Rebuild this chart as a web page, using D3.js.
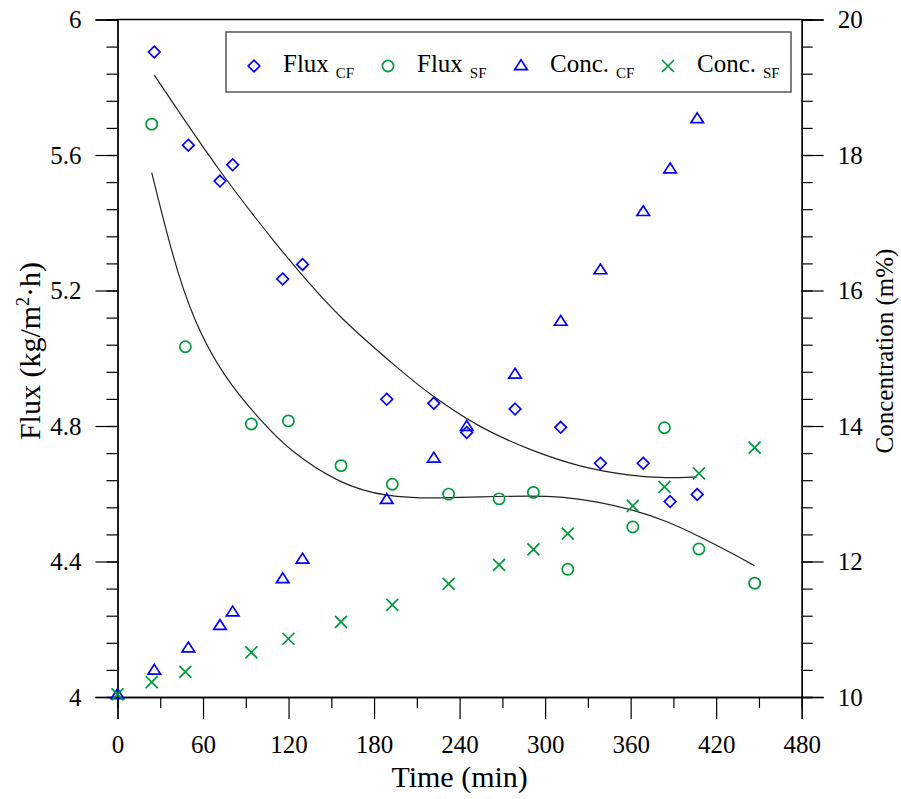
<!DOCTYPE html>
<html>
<head>
<meta charset="utf-8">
<script src="https://cdn.jsdelivr.net/npm/d3@7"></script>
<style>
  html, body { margin: 0; padding: 0; background: #fff; }
  svg { display: block; font-family: "Liberation Serif", "Times New Roman", serif; }
</style>
</head>
<body>
<svg id="chart" width="901" height="799"></svg>
<script>
// ---- data ----
const timeCF  = [0, 25.8, 49.7, 71.9, 80.8, 115.9, 129.8, 188.9, 221.9, 245.0, 278.9, 310.9, 338.8, 368.8, 387.7, 406.7];
const fluxCF  = [null, 5.904, 5.629, 5.523, 5.571, 5.234, 5.277, 4.879, 4.867, 4.781, 4.850, 4.796, 4.690, 4.690, 4.577, 4.598];
const concCF  = [10.03, 10.39, 10.72, 11.05, 11.25, 11.74, 12.03, 12.91, 13.52, 13.99, 14.76, 15.54, 16.30, 17.16, 17.79, 18.53];

const timeSF  = [0, 24.0, 47.6, 93.9, 119.9, 156.8, 192.8, 232.3, 267.7, 291.8, 315.9, 361.5, 383.7, 407.9, 447.0];
const fluxSF  = [null, 5.691, 5.034, 4.806, 4.815, 4.683, 4.628, 4.599, 4.585, 4.604, 4.377, 4.502, 4.795, 4.437, 4.336];
const concSF  = [10.04, 10.22, 10.37, 10.66, 10.86, 11.11, 11.36, 11.67, 11.95, 12.18, 12.41, 12.82, 13.10, 13.30, 13.68];

// trend lines drawn in the reference
const fitCFtime = [25.8, 71.9, 116.4, 130.4, 156.1, 198.2, 219.3, 254.4, 289.5, 324.6, 359.6, 385.4, 406.5];
const fitCFflux = [5.836, 5.546, 5.310, 5.241, 5.118, 4.965, 4.892, 4.793, 4.729, 4.678, 4.653, 4.646, 4.650];
const fitSFtime = [24.0, 39.2, 53.2, 74.2, 100.0, 119.9, 156.8, 188.9, 221.4, 254.4, 289.5, 312.8, 336.3, 362.0, 385.4, 408.8, 432.1, 446.7];
const fitSFflux = [5.548, 5.290, 5.113, 4.946, 4.818, 4.729, 4.626, 4.591, 4.586, 4.591, 4.594, 4.591, 4.577, 4.552, 4.520, 4.473, 4.422, 4.388];

const xTicks      = [0, 60, 120, 180, 240, 300, 360, 420, 480];
const xMinorTicks = [30, 90, 150, 210, 270, 330, 390, 450];
const yLTicks     = [4, 4.4, 4.8, 5.2, 5.6, 6];
const yRTicks     = [10, 12, 14, 16, 18, 20];

const legendItems = [
  { name: "Flux",  sub: "CF", symbol: "diamond",  color: "#0000ff" },
  { name: "Flux",  sub: "SF", symbol: "circle",   color: "#009a3c" },
  { name: "Conc.", sub: "CF", symbol: "triangle", color: "#0000ff" },
  { name: "Conc.", sub: "SF", symbol: "cross",    color: "#009a3c" }
];

// ---- layout ----
const L = 117.5, R = 801.7, T = 19.5, B = 697;
const BLUE = "#0000ff", GREEN = "#009a3c";

const svg = d3.select("#chart");
const x  = d3.scaleLinear().domain([0, 480]).range([L, R]);
const yL = d3.scaleLinear().domain([4, 6]).range([B, T]);
const yR = d3.scaleLinear().domain([10, 20]).range([B, T]);

function styleAxis(g) {
  g.attr("font-family", null);
  g.selectAll("path.domain").attr("stroke", "#000").attr("stroke-width", 1.3);
  g.selectAll(".tick line").attr("stroke", "#000").attr("stroke-width", 1.2);
  g.selectAll(".tick text").attr("font-size", 25).attr("fill", "#000");
}

// minor ticks
svg.append("g").attr("transform", `translate(0,${B})`)
  .call(d3.axisBottom(x).tickValues(xMinorTicks).tickSize(11).tickFormat(""))
  .call(styleAxis);
svg.append("g").attr("transform", `translate(${L},0)`)
  .call(d3.axisLeft(yL).tickValues(d3.range(0, 26).map(i => 4 + i * 0.08)).tickSize(11).tickFormat(""))
  .call(styleAxis);
svg.append("g").attr("transform", `translate(${R},0)`)
  .call(d3.axisRight(yR).tickValues(d3.range(0, 26).map(i => 10 + i * 0.4)).tickSize(11).tickFormat(""))
  .call(styleAxis);

// major ticks + labels
svg.append("g").attr("transform", `translate(0,${B})`)
  .call(d3.axisBottom(x).tickValues(xTicks).tickSize(22).tickPadding(16).tickFormat(d3.format("d")))
  .call(styleAxis);
svg.append("g").attr("transform", `translate(${L},0)`)
  .call(d3.axisLeft(yL).tickValues(yLTicks).tickSize(22).tickPadding(14).tickFormat(d => String(d)))
  .call(styleAxis);
svg.append("g").attr("transform", `translate(${R},0)`)
  .call(d3.axisRight(yR).tickValues(yRTicks).tickSize(22).tickPadding(14).tickFormat(d3.format("d")))
  .call(styleAxis);

// top frame line
svg.append("line").attr("x1", L).attr("x2", R).attr("y1", T).attr("y2", T)
  .attr("stroke", "#000").attr("stroke-width", 1.3);

// axis titles
svg.append("text").attr("x", (L + R) / 2).attr("y", 787).attr("text-anchor", "middle")
  .attr("font-size", 30).text("Time (min)");

const yt = svg.append("text").attr("transform", `translate(40,351) rotate(-90)`)
  .attr("text-anchor", "middle").attr("font-size", 30);
yt.append("tspan").text("Flux (kg/m");
yt.append("tspan").attr("font-size", 18).attr("dy", -11).text("2");
yt.append("tspan").attr("font-size", 30).attr("dy", 11).text("·h)");

svg.append("text").attr("transform", `translate(893,351) rotate(-90)`)
  .attr("text-anchor", "middle").attr("font-size", 25).text("Concentration (m%)");

// ---- trend lines ----
const line = d3.line().curve(d3.curveBasis);
svg.append("path")
  .attr("d", line(fitCFtime.map((t, i) => [x(t), yL(fitCFflux[i])])))
  .attr("fill", "none").attr("stroke", "#222").attr("stroke-width", 1.2);
svg.append("path")
  .attr("d", line(fitSFtime.map((t, i) => [x(t), yL(fitSFflux[i])])))
  .attr("fill", "none").attr("stroke", "#222").attr("stroke-width", 1.2);

// ---- markers ----
function drawSymbol(g, type, color) {
  const sw = 1.7;
  if (type === "diamond") {
    g.append("path").attr("d", "M0,-5.8L5.8,0L0,5.8L-5.8,0Z")
      .attr("fill", "none").attr("stroke", color).attr("stroke-width", sw);
  } else if (type === "circle") {
    g.append("circle").attr("r", 5.6)
      .attr("fill", "none").attr("stroke", color).attr("stroke-width", sw);
  } else if (type === "triangle") {
    g.append("path").attr("d", "M0,-6.2L6.3,3.6L-6.3,3.6Z")
      .attr("fill", "none").attr("stroke", color).attr("stroke-width", sw);
  } else if (type === "cross") {
    g.append("path").attr("d", "M-6,-6L6,6M-6,6L6,-6")
      .attr("fill", "none").attr("stroke", color).attr("stroke-width", sw);
  }
}

function plotSeries(times, values, scale, type, color) {
  times.forEach((t, i) => {
    if (values[i] == null) return;
    const g = svg.append("g").attr("transform", `translate(${x(t)},${scale(values[i])})`);
    drawSymbol(g, type, color);
  });
}

plotSeries(timeCF, fluxCF, yL, "diamond", BLUE);
plotSeries(timeSF, fluxSF, yL, "circle", GREEN);
plotSeries(timeCF, concCF, yR, "triangle", BLUE);
plotSeries(timeSF, concSF, yR, "cross", GREEN);

// ---- legend ----
const lg = svg.append("g");
lg.append("rect").attr("x", 226).attr("y", 32).attr("width", 565).attr("height", 60)
  .attr("fill", "#fff").attr("stroke", "#555").attr("stroke-width", 1.5);
const legendX = [254, 388, 521, 668];
legendItems.forEach((d, i) => {
  const g = lg.append("g").attr("transform", `translate(${legendX[i]},66)`);
  drawSymbol(g, d.symbol, d.color);
  const t = lg.append("text").attr("x", legendX[i] + 29).attr("y", 72).attr("font-size", 25);
  t.append("tspan").text(d.name);
  t.append("tspan").attr("font-size", 15).attr("dx", 7).attr("dy", 6).text(d.sub);
});
</script>
</body>
</html>
